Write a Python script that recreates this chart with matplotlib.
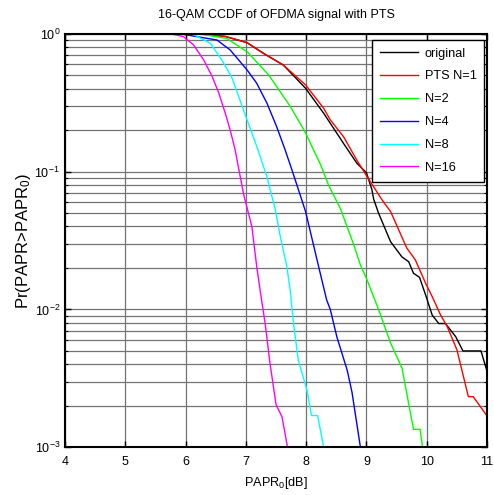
import numpy as np
import matplotlib
matplotlib.use("Agg")
import matplotlib.pyplot as plt
from matplotlib.ticker import LogLocator, NullFormatter, FixedLocator

plt.rcParams['font.family'] = ['Liberation Sans', 'DejaVu Sans']
plt.rcParams['mathtext.fontset'] = 'custom'
plt.rcParams['mathtext.rm'] = 'Liberation Sans'
plt.rcParams['mathtext.it'] = 'Liberation Sans'
plt.rcParams['mathtext.bf'] = 'Liberation Sans:bold'

# CCDF curves (PAPR0 in dB, probability)
x_orig = [4, 6.0, 6.3, 6.66, 7.02, 7.29, 7.62, 7.99, 8.29, 8.40, 8.62, 8.84, 9.0, 9.09, 9.12,
          9.20, 9.40, 9.59, 9.70, 9.78, 9.88, 9.99, 10.09, 10.20, 10.31, 10.48, 10.60, 10.90, 11.0]
p_orig = [1, 1, 0.99, 0.955, 0.861, 0.721, 0.593, 0.402, 0.265, 0.224, 0.160, 0.115, 0.098, 0.074, 0.063,
          0.050, 0.031, 0.024, 0.0222, 0.0183, 0.0171, 0.0124, 0.0091, 0.0079, 0.0079, 0.00635, 0.0050, 0.0050, 0.00355]

x_n1 = [4, 6.0, 6.3, 6.66, 7.02, 7.29, 7.62, 7.99, 8.29, 8.40, 8.62, 8.84, 9.01, 9.26, 9.40, 9.67,
        9.81, 9.98, 10.09, 10.23, 10.34, 10.50, 10.69, 10.77, 11.0]
p_n1 = [1, 1, 0.99, 0.955, 0.861, 0.721, 0.593, 0.425, 0.288, 0.237, 0.179, 0.121, 0.092, 0.0622, 0.0513, 0.0278,
        0.0229, 0.0155, 0.0124, 0.0091, 0.0075, 0.0051, 0.00233, 0.00233, 0.00169]

x_n2 = [4, 6.2, 6.68, 7.02, 7.38, 7.74, 7.99, 8.12, 8.24, 8.37, 8.565, 8.79, 8.90, 9.0, 9.20, 9.40,
        9.59, 9.78, 9.89, 9.93]
p_n2 = [1, 1, 0.925, 0.741, 0.501, 0.295, 0.191, 0.144, 0.112, 0.080, 0.0542, 0.0294, 0.0210, 0.0168, 0.0100, 0.0057,
        0.00375, 0.00135, 0.00135, 0.001]

x_n4 = [4, 5.9, 6.52, 6.74, 7.02, 7.18, 7.35, 7.51, 7.65, 7.77, 7.99, 8.18, 8.34, 8.40, 8.51, 8.68, 8.76, 8.90]
p_n4 = [1, 1, 0.90, 0.762, 0.546, 0.437, 0.313, 0.212, 0.144, 0.101, 0.0513, 0.0229, 0.0117, 0.0100, 0.0063,
        0.00363, 0.00251, 0.001]

x_n8 = [4, 5.9, 6.13, 6.41, 6.60, 6.77, 6.90, 7.02, 7.20, 7.35, 7.49, 7.57, 7.68, 7.74, 7.79, 7.87,
        8.01, 8.09, 8.19, 8.29]
p_n8 = [1, 1, 0.989, 0.851, 0.646, 0.479, 0.331, 0.237, 0.144, 0.0912, 0.0525, 0.0339, 0.0204, 0.0132, 0.0079,
        0.00427, 0.00263, 0.0017, 0.0017, 0.001]

x_n16 = [4, 5.74, 5.96, 6.13, 6.30, 6.44, 6.55, 6.66, 6.74, 6.82, 6.96, 7.10, 7.18, 7.26, 7.32, 7.40,
         7.50, 7.60, 7.69]
p_n16 = [1, 1, 0.955, 0.832, 0.646, 0.490, 0.372, 0.263, 0.200, 0.145, 0.0692, 0.0398, 0.0204, 0.0117, 0.0079,
         0.00407, 0.00204, 0.00166, 0.001]

labels = ['original', 'PTS N=1', 'N=2', 'N=4', 'N=8', 'N=16']
colors = ['#000000', '#ff0000', '#00ff00', '#0000ff', '#00ffff', '#ff00ff']

fig = plt.figure(figsize=(4.94, 4.95), dpi=100)
ax = fig.add_axes([0.1316, 0.0964, 0.8543, 0.8355])

curves = [(x_orig, p_orig), (x_n1, p_n1), (x_n2, p_n2), (x_n4, p_n4), (x_n8, p_n8), (x_n16, p_n16)]
for (xs, ps), lab, col in zip(curves, labels, colors):
    ax.semilogy(xs, ps, color=col, lw=1.0, label=lab)

ax.set_xlim(4, 11)
ax.set_ylim(1e-3, 1)
ax.xaxis.set_major_locator(FixedLocator(np.arange(4, 12)))
ax.yaxis.set_major_locator(LogLocator(base=10, numticks=10))
ax.yaxis.set_minor_locator(LogLocator(base=10, subs=np.arange(2, 10), numticks=20))
ax.yaxis.set_minor_formatter(NullFormatter())

ax.grid(True, which='major', color='0.45', lw=0.9)
ax.grid(True, which='minor', axis='y', color='0.45', lw=0.9)
ax.set_axisbelow(True)

ax.tick_params(which='both', direction='in', top=True, right=True, labelsize=9, colors='k')
ax.tick_params(which='major', length=4, width=1)
ax.tick_params(axis='x', which='major', pad=6)
ax.tick_params(which='minor', length=2.5, width=0.8)
for s in ax.spines.values():
    s.set_linewidth(1.5)

ax.set_title('16-QAM CCDF of OFDMA signal with PTS', fontsize=9, pad=11)
ax.set_xlabel('PAPR$_0$[dB]', fontsize=9.2, labelpad=5)
ax.set_ylabel('Pr(PAPR>PAPR$_0$)', fontsize=12, labelpad=1)

leg = ax.legend(loc='upper right', bbox_to_anchor=(0.993, 0.985), borderaxespad=0,
                fontsize=9.2, handlelength=3.0, handletextpad=0.5, labelspacing=0.85,
                fancybox=False, framealpha=1, edgecolor='k', borderpad=0.6)
leg.get_frame().set_linewidth(1.0)

fig.savefig('out.png', dpi=100)
